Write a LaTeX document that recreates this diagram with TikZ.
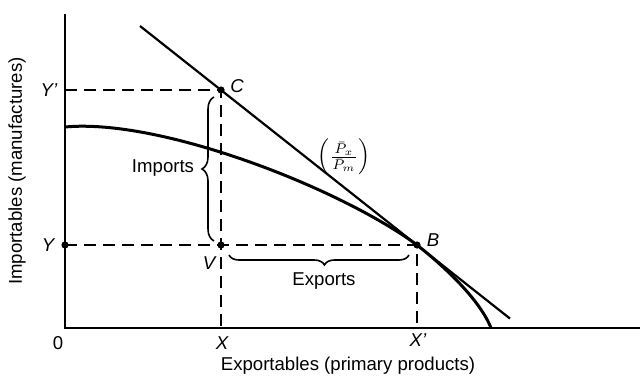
\documentclass[tikz,border=0pt]{standalone}
\usepackage{fontspec}
\setmainfont{Liberation Sans}
\usepackage{tikz}
\usetikzlibrary{decorations.pathreplacing}
\tikzset{
    axisline/.style={line width=0.85pt},
    guide/.style={line width=0.85pt, dash pattern=on 6pt off 3.5pt},
    priceline/.style={line width=1.1pt},
    ppf/.style={line width=1.5pt},
    dot/.style={circle, fill=black, inner sep=0pt, minimum size=3.6pt},
    txt/.style={font=\fontsize{9.3}{11}\selectfont},
    ptlabel/.style={font=\fontsize{9.3}{11}\selectfont\itshape},
    bracket/.style={decorate, decoration={brace, amplitude=#1}, line width=0.8pt}
}

\begin{document}
\begin{tikzpicture}[x=0.5pt,y=-0.5pt]
\useasboundingbox (0,0) rectangle (641,391);

% axes
\coordinate (O) at (65,328);
\coordinate (ytop) at (65,14);
\coordinate (xend) at (640,328);
\draw[axisline] (ytop) -- (O) -- (xend);

% points
\node[dot] (C) at (221,90) {};
\node[dot] (B) at (417,245) {};
\node[dot] (V) at (221,245) {};
\node[dot] (Y) at (65,245) {};
\coordinate (Yp) at (65,90);
\coordinate (X) at (221,328);
\coordinate (Xp) at (417,328);

% dashed guides
\draw[guide] (Yp) -- (C.center) -- (X);
\draw[guide] (Y.center) -- (B.center) -- (Xp);

% terms of trade line
\coordinate (ptop) at (140,26);
\coordinate (pend) at (510,318.6);
\draw[priceline] (ptop) -- (pend);

% production possibility curve
\coordinate (ppftop) at (65,127);
\coordinate (ppfend) at (491,328);
\draw[ppf] (ppftop) .. controls (160,118) and (340,188) .. (B.center)
    .. controls (445,267) and (480,300) .. (ppfend);

% braces
\coordinate (impbot) at (214,241);
\coordinate (imptop) at (214,97);
\draw[bracket=6pt] (impbot) -- (imptop);
\coordinate (expleft) at (229,255);
\coordinate (expright) at (409,255);
\draw[bracket=5pt, decoration={mirror, aspect=0.53}] (expleft) -- (expright);

% labels
\node[txt] (imports) at (163,168) {Imports};
\node[txt] (exports) at (324,281) {Exports};
\node[ptlabel] (Clbl) at (237,86) {C};
\node[ptlabel] (Blbl) at (433,240) {B};
\node[ptlabel] (Vlbl) at (209,263) {V};
\node[ptlabel] (Yplbl) at (49,90) {Y'};
\node[ptlabel] (Ylbl) at (48,245) {Y};
\node[txt] (Olbl) at (58,343) {0};
\node[ptlabel] (Xlbl) at (222,343) {X};
\node[ptlabel] (Xplbl) at (418,340) {X'};
\node[txt] (ratio) at (344,157) {$\left(\frac{\bar{P}_x}{\bar{P}_m}\right)$};
\node[txt] (xtitle) at (348,366) {Exportables (primary products)};
\node[txt, rotate=90] (ytitle) at (17,171) {Importables (manufactures)};
\end{tikzpicture}
\end{document}
